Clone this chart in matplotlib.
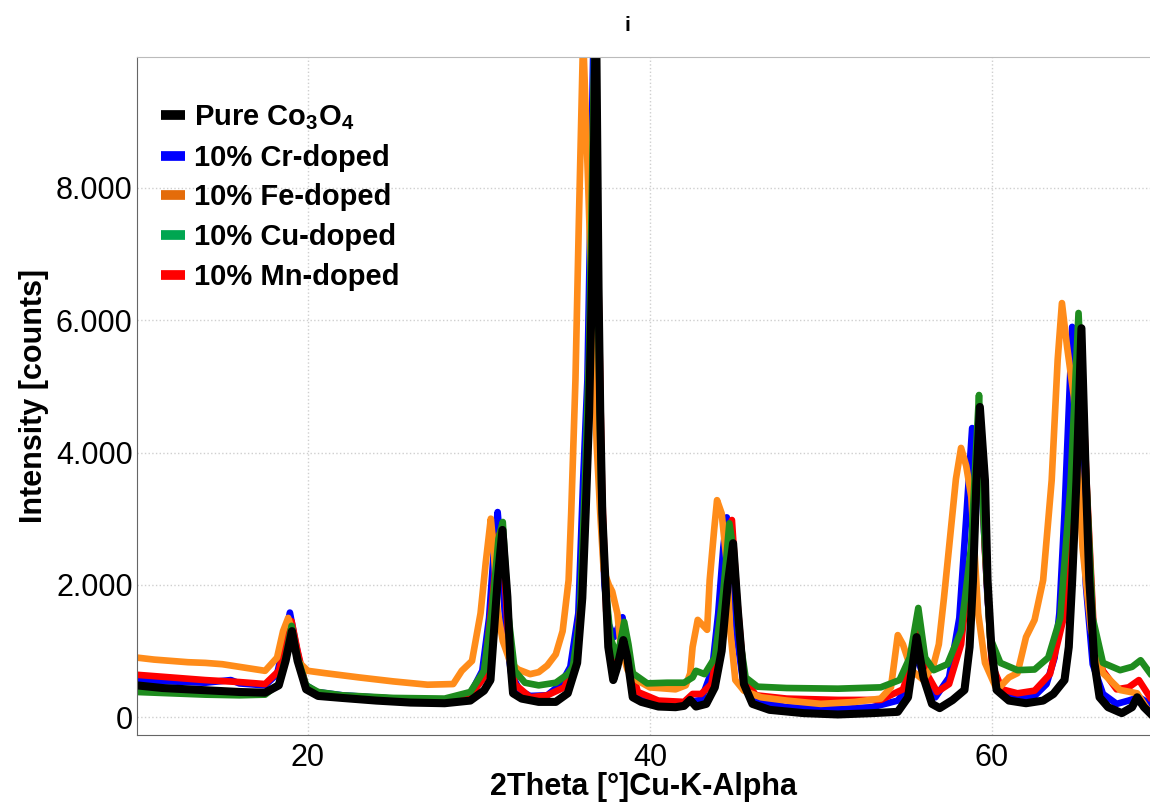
import matplotlib.pyplot as plt
from matplotlib.lines import Line2D
import numpy as np

# XRD patterns, (2theta, counts)
pure_pts = [(10, 480), (11.5, 440), (13, 420), (14.5, 400), (16, 380), (17.5, 370), (18.3, 480), (18.7, 850),
            (19.07, 1300), (19.4, 850), (19.9, 420), (20.6, 320), (22, 290), (24, 250), (26, 220), (28, 210),
            (29.5, 250), (30.3, 400), (30.68, 560), (31.1, 2070), (31.38, 2830), (31.67, 1815), (31.85, 820),
            (32.0, 360), (32.5, 280), (33.5, 230), (34.5, 230), (35.2, 360), (35.75, 820), (36.05, 1800),
            (36.25, 3100), (36.45, 4600), (36.65, 7000), (36.85, 10800), (37.0, 6500), (37.1, 4600),
            (37.22, 3080), (37.4, 2070), (37.57, 1060), (37.86, 560), (38.1, 760), (38.45, 1165), (38.68, 900),
            (39.0, 300), (39.5, 230), (40.5, 160), (41.5, 150), (42.0, 170), (42.36, 260), (42.7, 160),
            (43.3, 200), (43.8, 450), (44.2, 1000), (44.55, 2000), (44.87, 2630), (45.15, 1600), (45.5, 500),
            (46.0, 200), (47, 110), (49, 60), (51, 40), (53, 60), (54.5, 80), (55.1, 300), (55.6, 1210),
            (56.0, 600), (56.5, 200), (56.95, 136), (57.7, 257), (58.4, 410), (58.7, 1060), (58.9, 2070),
            (59.1, 3580), (59.3, 4690), (59.6, 3580), (59.75, 2070), (59.97, 1060), (60.28, 410), (61.0, 250),
            (62, 210), (63, 250), (63.6, 350), (64.25, 560), (64.5, 1060), (64.7, 2070), (64.95, 3580),
            (65.24, 5880), (65.5, 3580), (65.7, 2070), (66.0, 820), (66.3, 300), (66.8, 150), (67.6, 60),
            (68.2, 150), (68.5, 300), (68.9, 150), (69.25, 60)]

cr_pts = [(10, 560), (12, 540), (14, 520), (15.5, 560), (16, 510), (17.5, 480), (18.2, 650), (18.6, 1100),
          (18.95, 1580), (19.3, 1100), (19.8, 500), (20.5, 380), (22, 330), (25, 280), (28, 250), (29.5, 350),
          (30.2, 700), (30.6, 1500), (30.9, 2600), (31.1, 3100), (31.35, 2300), (31.6, 1200), (31.9, 650),
          (32.4, 400), (33, 320), (34, 330), (34.8, 500), (35.35, 760), (35.82, 1570), (36.1, 3580),
          (36.35, 5100), (36.55, 8000), (36.72, 10500), (36.9, 6500), (37.1, 3500), (37.35, 2000),
          (37.6, 1400), (37.9, 1210), (38.4, 1510), (38.65, 1100), (38.9, 560), (39.4, 300), (40.5, 230),
          (42, 220), (43, 260), (43.64, 710), (44.0, 1570), (44.3, 2570), (44.5, 3020), (44.8, 2500),
          (45.1, 1200), (45.5, 450), (46.2, 250), (48, 150), (51, 120), (53, 150), (54.5, 250), (55.2, 500),
          (55.55, 1000), (56, 600), (56.7, 300), (57.5, 600), (58.1, 1500), (58.5, 3000), (58.85, 4370),
          (59.15, 4000), (59.45, 3300), (59.75, 1800), (60.1, 700), (60.7, 330), (61.5, 300), (62.5, 320),
          (63.2, 500), (63.67, 900), (63.95, 1570), (64.25, 3080), (64.7, 5900), (65.1, 4500), (65.5, 2000),
          (65.9, 800), (66.5, 350), (67.3, 200), (68, 250), (68.6, 300), (69.25, 200)]

fe_pts = [(10, 900), (11, 870), (12, 850), (13, 830), (14, 820), (15, 800), (16, 760), (17.5, 700), (18.2, 900),
          (18.55, 1300), (18.85, 1500), (19.1, 1300), (19.4, 850), (20, 700), (21, 665), (23, 600), (25, 540),
          (27, 490), (28.5, 500), (29.0, 700), (29.6, 850), (30.1, 1570), (30.4, 2330), (30.7, 3000),
          (30.85, 2600), (31.1, 1600), (31.4, 1150), (31.85, 820), (32.3, 720), (33.0, 650), (33.5, 680),
          (34.0, 780), (34.5, 950), (34.9, 1300), (35.25, 2070), (35.4, 3080), (35.65, 5100), (35.85, 7500),
          (36.1, 10300), (36.4, 8000), (36.75, 5100), (36.9, 4080), (37.1, 3080), (37.3, 2220), (37.6, 2000),
          (37.8, 1900), (38.1, 1570), (38.3, 1060), (38.7, 710), (39.3, 550), (40, 450), (41.5, 420),
          (42.1, 480), (42.36, 660), (42.5, 1060), (42.8, 1470), (43.35, 1320), (43.5, 2070), (43.76, 2830),
          (43.93, 3280), (44.2, 3080), (44.5, 2330), (44.7, 1320), (45.0, 560), (45.5, 400), (46.5, 300),
          (48, 250), (50, 200), (52, 230), (53.5, 280), (54.1, 450), (54.5, 1240), (54.8, 1100), (55.3, 710),
          (56.0, 560), (56.6, 800), (56.9, 1100), (57.2, 1800), (57.5, 2570), (57.9, 3600), (58.2, 4070),
          (58.5, 3800), (58.8, 3330), (59.2, 1570), (59.6, 820), (60.3, 410), (61.0, 600), (61.5, 665),
          (62.0, 1210), (62.5, 1470), (63.0, 2070), (63.5, 3580), (63.85, 5400), (64.1, 6260), (64.4, 5600),
          (64.8, 4840), (65.3, 2570), (65.8, 1320), (66.5, 665), (67.5, 410), (68.5, 360), (69.25, 60)]

cu_pts = [(10, 380), (12, 360), (14, 340), (16, 330), (17.5, 340), (18.3, 500), (18.7, 900), (19.05, 1380),
          (19.4, 900), (19.9, 480), (20.6, 380), (22, 330), (25, 290), (28, 280), (29.5, 380), (30.3, 700),
          (30.8, 1700), (31.15, 2700), (31.4, 2950), (31.7, 1600), (32.1, 700), (32.7, 520), (33.5, 480),
          (34.5, 520), (35.2, 650), (35.5, 760), (35.9, 1500), (36.2, 3500), (36.45, 5500), (36.78, 10500),
          (36.95, 6500), (37.15, 3500), (37.4, 2000), (37.7, 1200), (38.1, 900), (38.5, 1440), (38.75, 1100),
          (39.0, 665), (39.85, 510), (41, 520), (42, 520), (42.5, 600), (42.7, 700), (43.2, 650), (43.8, 900),
          (44.3, 1900), (44.65, 2930), (44.9, 2500), (45.2, 1300), (45.6, 600), (46.3, 460), (48, 440),
          (51, 430), (53.5, 450), (54.6, 560), (55.2, 900), (55.7, 1650), (56.1, 900), (56.6, 710), (57.4, 800),
          (58.2, 1300), (58.8, 2600), (59.05, 3900), (59.25, 4870), (59.55, 2800), (59.9, 1200), (60.5, 820),
          (61.5, 710), (62.5, 720), (63.3, 900), (64.0, 1500), (64.6, 3500), (65.07, 6110), (65.45, 4000),
          (65.9, 1500), (66.5, 820), (67.5, 710), (68.2, 760), (68.7, 860), (69.25, 665)]

mn_pts = [(10, 640), (12, 600), (14, 560), (16, 530), (17.5, 500), (18.3, 700), (18.7, 1100), (19.05, 1450),
          (19.4, 1000), (19.9, 450), (20.6, 350), (22, 320), (25, 280), (28, 260), (29.5, 320), (30.3, 600),
          (30.8, 1800), (31.15, 2750), (31.4, 2600), (31.7, 1300), (32.1, 500), (33, 300), (34, 330), (35, 450),
          (35.6, 800), (36.0, 1800), (36.3, 3500), (36.55, 6500), (36.8, 10500), (37.0, 6500), (37.2, 3500),
          (37.45, 1600), (37.8, 850), (38.1, 950), (38.55, 1300), (38.85, 800), (39.3, 380), (40.5, 250),
          (42, 230), (42.5, 350), (43, 350), (43.6, 500), (44.1, 1200), (44.5, 2400), (44.8, 2980), (45.1, 1800),
          (45.5, 600), (46.2, 330), (48, 280), (51, 260), (53.5, 260), (54.8, 420), (55.3, 800), (55.65, 1360),
          (56.1, 700), (56.8, 380), (57.5, 500), (58.2, 1100), (58.8, 2500), (59.1, 3800), (59.3, 4600),
          (59.6, 2500), (60.0, 800), (60.6, 420), (61.5, 360), (62.5, 400), (63.4, 650), (64.2, 1500),
          (64.8, 3800), (65.2, 5700), (65.55, 3500), (66.0, 1100), (66.5, 700), (67.3, 420), (68.0, 450),
          (68.6, 560), (69.0, 400), (69.25, 300)]

labels = ["Pure Co$_\\mathbf{3}$O$_\\mathbf{4}$", "10% Cr-doped", "10% Fe-doped", "10% Cu-doped", "10% Mn-doped"]
line_colors = ["#000000", "#0000FF", "#FF8C1A", "#1E8C1E", "#FF0000"]
legend_colors = ["#000000", "#0000FF", "#E46C0A", "#00A651", "#FF0000"]
series = [pure_pts, cr_pts, fe_pts, cu_pts, mn_pts]

y_ticks = [0, 2000, 4000, 6000, 8000]
y_tick_labels = ["0", "2.000", "4.000", "6.000", "8.000"]
x_ticks = [20, 40, 60]

plt.rcParams['font.family'] = ['Liberation Sans', 'DejaVu Sans']
plt.rcParams['mathtext.fontset'] = 'custom'
plt.rcParams['mathtext.bf'] = 'Liberation Sans:bold'

fig = plt.figure(figsize=(11.5, 8.09), dpi=100)
ax = fig.add_axes([0.119, 0.0915, 0.881, 0.838])

# draw order: blue, red, orange, green, black on top
for i in [1, 4, 2, 3, 0]:
    xy = np.array(series[i]).T
    ax.plot(xy[0], xy[1], color=line_colors[i], lw=5.8 if i == 0 else 4.8, solid_joinstyle='round')

ax.set_xlim(10, 69.25)
ax.set_ylim(-270, 9980)
ax.set_xticks(x_ticks)
ax.set_yticks(y_ticks)
ax.set_yticklabels(y_tick_labels)
ax.tick_params(length=0, labelsize=22)
ax.tick_params(axis='x', pad=6)
ax.tick_params(axis='y', pad=3)
ax.grid(True, color='#cfcfcf', linestyle=':', linewidth=1)
for s in ['left', 'bottom']:
    ax.spines[s].set_color('#666666')
ax.spines['top'].set_color('#bbbbbb')
ax.spines['right'].set_visible(False)

ax.set_xlabel("2Theta [°]Cu-K-Alpha", fontsize=22, fontweight='bold', labelpad=-1)
ax.set_ylabel("Intensity [counts]", fontsize=22, fontweight='bold', labelpad=5)
fig.text(0.546, 0.969, "i", fontsize=15, fontweight='bold', ha='center', va='center')

handles = [Line2D([0], [0], color=c, lw=7, solid_capstyle='butt') for c in legend_colors]
leg = ax.legend(handles, labels, loc='upper left', bbox_to_anchor=(0.012, 0.949), frameon=False,
                prop={'size': 21, 'weight': 'bold'}, handlelength=0.85, handletextpad=0.3,
                labelspacing=0.4, borderaxespad=0)

fig.savefig("out.png", dpi=100)
